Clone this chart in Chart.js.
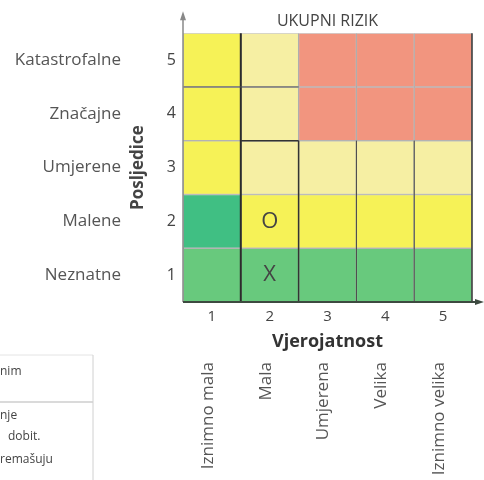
<!DOCTYPE html>
<html>
<head>
<meta charset="utf-8">
<script src="https://cdn.jsdelivr.net/npm/chart.js@4.4.0/dist/chart.umd.min.js"></script>
<style>
  html, body { margin: 0; padding: 0; background: #fff; }
</style>
</head>
<body>
<canvas id="matrix" width="484" height="480"></canvas>
<script>
// vjerojatnost (x os) i posljedice (y os)
var probability = [1, 2, 3, 4, 5];
var probabilityNames = ['Iznimno mala', 'Mala', 'Umjerena', 'Velika', 'Iznimno velika'];
var consequence = [1, 2, 3, 4, 5];
var consequenceNames = ['Neznatne', 'Malene', 'Umjerene', 'Značajne', 'Katastrofalne'];

// razina rizika po celiji: redak = posljedica 1..5, stupac = vjerojatnost 1..5
var riskRow1 = ['G', 'G', 'G', 'G', 'G'];
var riskRow2 = ['T', 'Y', 'Y', 'Y', 'Y'];
var riskRow3 = ['Y', 'P', 'P', 'P', 'P'];
var riskRow4 = ['Y', 'P', 'R', 'R', 'R'];
var riskRow5 = ['Y', 'P', 'R', 'R', 'R'];

// oznake upisane u matricu
var markerText = ['O', 'X'];
var markerProb = [2, 2];
var markerCons = [2, 1];

// ostaci tablice lijevo dolje (odrezani tekst)
var tableText = ['nim', 'nje', 'dobit.', 'remašuju'];

var palette = {
	G: '#68c97d',
	T: '#40bf83',
	Y: '#f6f257',
	P: '#f6efa3',
	R: '#f2957f'
};

Chart.defaults.font.family = '"Open Sans", sans-serif';

var rows = [riskRow1, riskRow2, riskRow3, riskRow4, riskRow5];
var datasets = [];
for (let i = 0; i < consequence.length; i++) {
	let c = consequence[i];
	datasets.push({
		label: consequenceNames[i],
		data: probability.map(function () { return [c - 0.5, c + 0.5]; }),
		backgroundColor: rows[i].map(function (k) { return palette[k]; }),
		borderColor: 'rgba(70, 70, 70, 0.35)',
		borderWidth: 1,
		borderSkipped: false,
		barPercentage: 1,
		categoryPercentage: 1
	});
}

function line(ctx, x1, y1, x2, y2, color, w) {
	ctx.beginPath();
	ctx.moveTo(x1, y1);
	ctx.lineTo(x2, y2);
	ctx.strokeStyle = color;
	ctx.lineWidth = w;
	ctx.stroke();
}

var extras = {
	id: 'extras',
	afterDatasetsDraw: function (chart) {
		var ctx = chart.ctx;
		var x = chart.scales.x, y = chart.scales.y;
		var area = chart.chartArea;
		// vrijednost vjerojatnosti -> piksel (kategorije krecu od 0)
		var px = function (v) { return x.getPixelForValue(v - 1); };
		var py = function (v) { return y.getPixelForValue(v); };

		ctx.save();
		// naglasene granice
		line(ctx, px(1.5), py(0.5), px(1.5), py(5.5), '#2b2b2b', 2);
		line(ctx, px(2.5), py(0.5), px(2.5), py(3.5), '#333', 1.5);
		line(ctx, px(1.5), py(3.5), px(2.5), py(3.5), '#333', 1.5);
		line(ctx, px(0.5), py(4.5), px(2.5), py(4.5), '#555', 1);
		line(ctx, px(3.5), py(0.5), px(3.5), py(3.5), '#444', 1);
		line(ctx, px(4.5), py(0.5), px(4.5), py(3.5), '#444', 1);
		line(ctx, px(5.5), py(0.5), px(5.5), py(5.5), '#333', 1.5);

		// oznake O i X
		ctx.fillStyle = '#444';
		ctx.font = '22px "Open Sans"';
		ctx.textAlign = 'center';
		ctx.textBaseline = 'middle';
		for (let i = 0; i < markerText.length; i++) {
			ctx.fillText(markerText[i], px(markerProb[i]), py(markerCons[i]));
		}

		// osi sa strelicama
		line(ctx, area.left, area.bottom, area.left, area.top - 18, '#888', 1.5);
		ctx.beginPath();
		ctx.moveTo(area.left, area.top - 22);
		ctx.lineTo(area.left - 3, area.top - 13);
		ctx.lineTo(area.left + 3, area.top - 13);
		ctx.closePath();
		ctx.fillStyle = '#888';
		ctx.fill();

		line(ctx, area.left, area.bottom, chart.width - 4, area.bottom, '#3d4a40', 2);
		ctx.beginPath();
		ctx.moveTo(chart.width, area.bottom);
		ctx.lineTo(chart.width - 9, area.bottom - 3);
		ctx.lineTo(chart.width - 9, area.bottom + 3);
		ctx.closePath();
		ctx.fillStyle = '#3d4a40';
		ctx.fill();

		// nazivi posljedica
		ctx.fillStyle = '#555';
		ctx.font = '17px "Open Sans"';
		ctx.textAlign = 'right';
		for (let i = 0; i < consequence.length; i++) {
			ctx.fillText(consequenceNames[i], y.left - 7, py(consequence[i]));
		}

		// dio tablice
		line(ctx, 0, 355, 93, 355, '#e4e4e4', 1);
		line(ctx, 0, 402, 93, 402, '#b5b5b5', 1);
		line(ctx, 93, 355, 93, 480, '#d0d0d0', 1);
		ctx.font = '12px "Open Sans"';
		ctx.fillStyle = '#444';
		ctx.textAlign = 'left';
		ctx.fillText(tableText[0], 0, 372);
		ctx.fillText(tableText[1], 0, 416);
		ctx.fillText(tableText[2], 8, 437);
		ctx.fillText(tableText[3], 0, 460);
		ctx.restore();
	}
};

window.onload = function () {
	var ctx = document.getElementById('matrix').getContext('2d');
	var chart = new Chart(ctx, {
		type: 'bar',
		data: {
			labels: probability.map(String),
			datasets: datasets
		},
		options: {
			responsive: false,
			animation: false,
			layout: { padding: { left: 128, right: 12, top: 0, bottom: 0 } },
			plugins: {
				legend: { display: false },
				tooltip: { enabled: false },
				title: {
					display: true,
					text: 'UKUPNI RIZIK',
					fullSize: false,
					color: '#444',
					font: { size: 16, weight: 'normal' },
					padding: { top: 12, bottom: 2 }
				}
			},
			scales: {
				x: {
					type: 'category',
					stacked: true,
					offset: true,
					weight: 0,
					afterFit: function (s) { s.height = 51; },
					grid: { display: false, drawTicks: false },
					border: { display: false },
					ticks: { color: '#444', font: { size: 15 }, padding: 6, maxRotation: 0 },
					title: {
						display: true,
						text: 'Vjerojatnost',
						color: '#333',
						font: { size: 18, weight: 'bold' },
						padding: { top: 0, bottom: 0 }
					}
				},
				x2: {
					type: 'category',
					position: 'bottom',
					labels: probabilityNames,
					offset: true,
					weight: 1,
					afterFit: function (s) { s.height = 127; },
					grid: { display: false, drawTicks: false },
					border: { display: false },
					ticks: { color: '#555', font: { size: 17 }, minRotation: 90, maxRotation: 90, padding: 9, autoSkip: false, labelOffset: -4 }
				},
				y: {
					type: 'linear',
					min: 0.5,
					max: 5.5,
					afterBuildTicks: function (s) { s.ticks = consequence.map(function (v) { return { value: v }; }); },
					afterFit: function (s) { s.width = 55; },
					grid: { display: false, drawTicks: false },
					border: { display: false },
					ticks: { color: '#444', font: { size: 16 }, padding: 7 },
					title: {
						display: true,
						text: 'Posljedice',
						color: '#444',
						font: { size: 17, weight: 'bold' },
						padding: 0
					}
				}
			}
		},
		plugins: [extras]
	});
};
</script>
</body>
</html>
